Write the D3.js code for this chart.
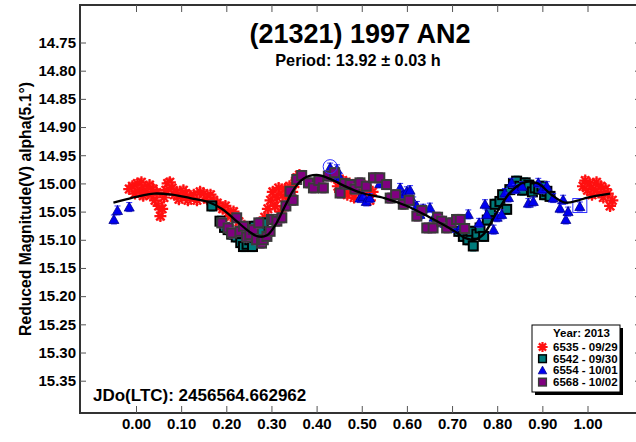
<!DOCTYPE html>
<html>
<head>
<meta charset="utf-8">
<script src="https://cdn.jsdelivr.net/npm/d3@7"></script>
<style>
    body { margin: 0; background: #fff; }
    svg { display: block; font-family: 'Liberation Sans', Arial, sans-serif; font-weight: bold; }
    .axis text { font-size: 15px; font-weight: bold; fill: #000; }
    .axis line { stroke: #555; }
</style>
</head>
<body>
<svg id="chart"></svg>
<script>
// [phase, reduced mag, error]
const night6535 = [
    [-0.015,15.010,0.007],[-0.008,15.005,0.007],[-0.002,15.018,0.007],[0.003,15.000,0.007],[0.008,15.012,0.007],
    [0.012,14.998,0.007],[0.016,15.022,0.007],[0.020,15.008,0.007],[0.025,15.015,0.007],[0.030,15.003,0.007],
    [0.034,15.020,0.007],[0.038,15.010,0.007],[0.042,15.030,0.007],[0.046,15.016,0.007],[0.050,15.040,0.007],
    [0.054,15.058,0.007],[0.058,15.045,0.007],[0.062,15.025,0.007],[0.066,15.012,0.007],[0.070,15.000,0.007],
    [0.075,14.998,0.007],[0.080,15.008,0.007],[0.085,15.020,0.007],[0.090,15.015,0.007],[0.095,15.028,0.007],
    [0.100,15.022,0.007],[0.105,15.012,0.007],[0.110,15.018,0.007],[0.115,15.030,0.007],[0.120,15.025,0.007],
    [0.128,15.020,0.007],[0.135,15.030,0.007],[0.142,15.015,0.007],[0.150,15.018,0.007],[0.158,15.028,0.007],
    [0.165,15.020,0.007],[0.172,15.030,0.007],[0.180,15.035,0.007],[0.186,15.040,0.007],[0.192,15.045,0.007],
    [0.198,15.040,0.007],[0.204,15.052,0.007],[0.210,15.058,0.007],[0.216,15.050,0.007],[0.222,15.062,0.007],
    [0.228,15.068,0.007],[0.240,15.075,0.007],[0.252,15.085,0.007],[0.262,15.080,0.007],
    [0.285,15.060,0.007],[0.292,15.045,0.007],[0.298,15.030,0.007],[0.303,15.015,0.007],[0.308,15.040,0.007],
    [0.312,15.025,0.007],[0.316,15.008,0.007],[0.320,15.050,0.007],[0.325,15.020,0.007],[0.330,15.010,0.007],
    [0.335,15.030,0.007],[0.340,15.005,0.007],[0.346,15.015,0.007],[0.352,15.000,0.007],[0.356,14.990,0.007],
    [0.362,14.985,0.007],
    [0.440,14.990,0.007],[0.447,15.005,0.007],[0.452,15.015,0.007],[0.458,14.995,0.007],[0.463,15.010,0.007],
    [0.468,15.020,0.007],[0.473,15.000,0.007],[0.478,15.012,0.007],[0.483,15.025,0.007],[0.488,15.005,0.007],
    [0.494,15.015,0.007],[0.500,15.002,0.007],[0.506,15.020,0.007],[0.512,15.010,0.007],[0.518,15.030,0.007],
    [0.524,15.015,0.007],
    [0.990,15.005,0.007],[0.995,14.995,0.007],[1.000,15.012,0.007],[1.005,15.000,0.007],[1.010,15.020,0.007],
    [1.015,15.008,0.007],[1.020,14.998,0.007],[1.025,15.015,0.007],[1.030,15.005,0.007],[1.035,15.025,0.007],
    [1.040,15.010,0.007],[1.045,15.018,0.007],[1.050,15.040,0.007],[1.055,15.030,0.007]
]

const night6542 = [
    [0.168,15.040,0.009],[0.186,15.067,0.009],[0.196,15.078,0.009],[0.204,15.082,0.009],[0.212,15.090,0.009],
    [0.222,15.095,0.009],[0.232,15.105,0.009],[0.238,15.112,0.009],[0.246,15.108,0.009],[0.252,15.100,0.009],
    [0.258,15.112,0.009],[0.262,15.076,0.009],[0.268,15.095,0.009],[0.275,15.085,0.009],[0.282,15.070,0.009],
    [0.715,15.085,0.009],[0.725,15.094,0.009],[0.735,15.100,0.009],[0.742,15.085,0.009],[0.747,15.111,0.009],
    [0.755,15.090,0.009],[0.762,15.079,0.009],[0.770,15.094,0.009],[0.778,15.065,0.009],[0.785,15.050,0.009],
    [0.795,15.037,0.009],[0.806,15.032,0.009],[0.812,15.020,0.009],[0.821,15.046,0.009],[0.828,15.011,0.009],
    [0.836,15.000,0.009],[0.843,14.996,0.009],[0.850,15.005,0.009],[0.856,15.012,0.009],[0.862,14.999,0.009],
    [0.870,15.003,0.009],[0.878,15.015,0.009],[0.884,15.008,0.009],[0.892,15.010,0.009],[0.899,15.005,0.009],
    [0.905,15.020,0.009],[0.910,15.014,0.009],[0.917,15.023,0.009]
]

const night6554 = [
    [-0.049,15.064,0.008],[-0.041,15.048,0.008],[-0.015,15.042,0.008],
    [0.430,14.972,0.008],[0.438,14.985,0.008],[0.445,14.975,0.008],[0.452,14.990,0.008],
    [0.496,15.026,0.008],[0.503,15.023,0.008],[0.510,15.032,0.008],[0.518,15.026,0.008],[0.540,15.000,0.008],
    [0.585,15.008,0.008],[0.592,15.020,0.008],[0.600,15.014,0.008],[0.607,15.012,0.008],[0.614,15.032,0.008],
    [0.622,15.040,0.008],[0.629,15.055,0.008],[0.636,15.045,0.008],[0.651,15.043,0.008],[0.660,15.060,0.008],
    [0.680,15.070,0.008],[0.703,15.079,0.008],[0.720,15.075,0.008],[0.736,15.055,0.008],[0.760,15.070,0.008],
    [0.773,15.037,0.008],[0.777,15.055,0.008],[0.792,15.082,0.008],[0.800,15.060,0.008],[0.810,15.055,0.008],
    [0.817,15.017,0.008],[0.825,15.025,0.008],[0.832,14.999,0.008],[0.840,15.010,0.008],[0.855,15.005,0.008],
    [0.869,15.035,0.008],[0.880,15.032,0.008],[0.891,14.999,0.008],[0.900,15.010,0.008],[0.910,15.005,0.008],
    [0.924,15.026,0.008],[0.939,15.044,0.008],[0.946,15.029,0.008],[0.952,15.064,0.008],[0.957,15.050,0.008],
    [0.983,15.041,0.008]
]

const night6568 = [
    [0.190,15.070,0.009],[0.204,15.079,0.009],[0.212,15.088,0.009],[0.223,15.061,0.009],[0.230,15.085,0.009],
    [0.238,15.076,0.009],[0.245,15.095,0.009],[0.252,15.091,0.009],[0.260,15.082,0.009],[0.267,15.100,0.009],
    [0.272,15.070,0.009],[0.278,15.106,0.009],[0.282,15.100,0.009],[0.290,15.094,0.009],[0.297,15.085,0.009],
    [0.300,15.064,0.009],[0.304,15.064,0.009],[0.312,15.067,0.009],[0.323,15.061,0.009],[0.332,15.040,0.009],
    [0.341,15.014,0.009],[0.348,15.030,0.009],[0.356,14.993,0.009],[0.367,14.986,0.009],[0.382,14.999,0.009],
    [0.393,15.008,0.009],[0.405,14.995,0.009],[0.415,15.008,0.009],[0.426,14.987,0.009],[0.440,14.981,0.009],
    [0.452,15.017,0.009],[0.462,15.000,0.009],[0.474,15.002,0.009],[0.485,15.010,0.009],[0.496,14.999,0.009],
    [0.510,15.005,0.009],[0.526,14.990,0.009],[0.540,14.990,0.009],[0.555,15.002,0.009],[0.563,15.026,0.009],
    [0.575,15.020,0.009],[0.592,15.037,0.009],[0.605,15.030,0.009],[0.622,15.058,0.009],[0.633,15.048,0.009],
    [0.644,15.079,0.009],[0.658,15.079,0.009],[0.668,15.060,0.009],[0.677,15.067,0.009],[0.688,15.079,0.009],
    [0.698,15.070,0.009],[0.710,15.064,0.009],[0.718,15.064,0.009],[0.728,15.080,0.009]
]

// fourier fit
const fitPhase = [-0.05,-0.02,0.00,0.04,0.08,0.12,0.16,0.19,0.22,0.25,0.27,0.29,0.31,0.33,0.35,0.37,0.40,0.43,0.46,0.50,
    0.55,0.60,0.65,0.70,0.73,0.75,0.77,0.80,0.83,0.86,0.89,0.92,0.95,0.98,1.00,1.05]
const fitMag = [15.034,15.028,15.024,15.018,15.020,15.026,15.033,15.045,15.065,15.085,15.094,15.092,15.072,15.040,15.010,14.992,14.985,14.992,15.004,15.017,
    15.026,15.040,15.060,15.082,15.097,15.100,15.090,15.050,15.015,14.998,15.000,15.020,15.034,15.030,15.025,15.018]

const xTicks = [0.0,0.1,0.2,0.3,0.4,0.5,0.6,0.7,0.8,0.9,1.0]
const yTicks = [14.75,14.80,14.85,14.90,14.95,15.00,15.05,15.10,15.15,15.20,15.25,15.30,15.35]

const legendNames = ['6535 - 09/29','6542 - 09/30','6554 - 10/01','6568 - 10/02']
const titleText = '(21321) 1997 AN2'
const periodText = 'Period: 13.92 \u00b1 0.03 h'
const jdText = 'JDo(LTC): 2456564.662962'
const yLabelText = 'Reduced Magnitude(V) alpha(5.1\u00b0)'

class LightCurve {
    constructor(_config) {
        this.config = {
            parentElement: _config.parentElement,
            containerWidth: 636,
            containerHeight: 442,
            frame: { left: 80, top: 5, right: 641, bottom: 413 }
        }
        this.series = [
            { data: night6535, shape: 'star', fill: '#ff0000', stroke: '#ff1010', bar: '#ff4040' },
            { data: night6542, shape: 'square', fill: '#007b7b', stroke: '#000', bar: '#2a9a9a' },
            { data: night6554, shape: 'triangle', fill: '#0000f0', stroke: '#00008a', bar: '#3030ff' },
            { data: night6568, shape: 'square', fill: '#800080', stroke: '#3a3a3a', bar: '#a050a0' }
        ]
        this.initVis()
    }

    initVis() {
        let vis = this
        let f = vis.config.frame

        vis.svg = d3.select(vis.config.parentElement)
            .attr('width', vis.config.containerWidth)
            .attr('height', vis.config.containerHeight)

        vis.xScale = d3.scaleLinear().domain([0, 1]).range([136, 587.5])
        vis.yScale = d3.scaleLinear().domain([14.75, 15.35]).range([42.5, 380.7])

        vis.svg.append('rect')
            .attr('x', f.left).attr('y', f.top)
            .attr('width', f.right - f.left).attr('height', f.bottom - f.top)
            .attr('fill', '#fff').attr('stroke', '#333').attr('stroke-width', 2)

        vis.xAxisG = vis.svg.append('g').attr('class', 'axis')
            .attr('transform', `translate(0,${f.bottom})`)
        vis.topAxisG = vis.svg.append('g').attr('class', 'axis')
            .attr('transform', `translate(0,${f.top})`)
        vis.yAxisG = vis.svg.append('g').attr('class', 'axis')
            .attr('transform', `translate(${f.left},0)`)
        vis.rightAxisG = vis.svg.append('g').attr('class', 'axis')
            .attr('transform', `translate(${f.right},0)`)

        vis.marks = vis.svg.append('g')

        vis.renderVis()
    }

    renderVis() {
        let vis = this

        vis.xAxisG.call(d3.axisBottom(vis.xScale).tickValues(xTicks).tickSize(-7).tickPadding(5).tickFormat(d3.format('.2f')))
        vis.topAxisG.call(d3.axisTop(vis.xScale).tickValues(xTicks).tickSize(-7).tickFormat(''))
        vis.yAxisG.call(d3.axisLeft(vis.yScale).tickValues(yTicks).tickSize(-6).tickPadding(4).tickFormat(d3.format('.2f')))
        vis.rightAxisG.call(d3.axisRight(vis.yScale).tickValues(yTicks).tickSize(-6).tickFormat(''))
        vis.svg.selectAll('.axis .domain').remove()

        vis.series.forEach((s, i) => {
            let g = vis.marks.append('g')
            let pts = g.selectAll('g.pt')
                .data(s.data)
                .join('g')
                .attr('class', 'pt')
                .attr('transform', d => `translate(${vis.xScale(d[0])},${vis.yScale(d[1])})`)

            // error bars
            pts.append('path')
                .attr('d', d => {
                    let h = vis.yScale(d[1] + d[2]) - vis.yScale(d[1])
                    return `M0,${-h}V${h}M-3,${-h}H3M-3,${h}H3`
                })
                .attr('stroke', s.bar).attr('stroke-width', 1).attr('fill', 'none')

            vis.drawMarker(pts, s)
        })

        // highlighted points
        let circ = night6554[3]
        vis.marks.append('circle')
            .attr('cx', vis.xScale(circ[0])).attr('cy', vis.yScale(circ[1]) - 1)
            .attr('r', 7).attr('fill', 'none').attr('stroke', '#3030ff').attr('stroke-width', 1)
        let box = night6554[night6554.length - 1]
        vis.marks.append('rect')
            .attr('x', vis.xScale(box[0]) - 7).attr('y', vis.yScale(box[1]) - 8)
            .attr('width', 14).attr('height', 14)
            .attr('fill', 'none').attr('stroke', '#3030ff').attr('stroke-width', 1)

        let fit = fitPhase.map((p, i) => [p, fitMag[i]])
        vis.marks.append('path')
            .datum(fit)
            .attr('d', d3.line().x(d => vis.xScale(d[0])).y(d => vis.yScale(d[1])).curve(d3.curveCatmullRom))
            .attr('fill', 'none').attr('stroke', '#000').attr('stroke-width', 2.3)

        // titles
        vis.svg.append('text').attr('x', 360).attr('y', 43)
            .attr('text-anchor', 'middle').attr('font-size', 27).text(titleText)
        vis.svg.append('text').attr('x', 358).attr('y', 66)
            .attr('text-anchor', 'middle').attr('font-size', 16.3).text(periodText)
        vis.svg.append('text')
            .attr('transform', 'translate(31,209) rotate(-90)')
            .attr('text-anchor', 'middle').attr('font-size', 15.7).text(yLabelText)
        vis.svg.append('text').attr('x', 93).attr('y', 401)
            .attr('font-size', 17).text(jdText)

        // legend
        let lg = vis.svg.append('g').attr('transform', 'translate(532,325)')
        lg.append('rect').attr('x', 3).attr('y', 3).attr('width', 88).attr('height', 67).attr('fill', '#000')
        lg.append('rect').attr('width', 88).attr('height', 67).attr('fill', '#fff').attr('stroke', '#000').attr('stroke-width', 1)
        lg.append('text').attr('x', 21).attr('y', 12).attr('font-size', 11.5).text('Year: 2013')
        vis.series.forEach((s, i) => {
            let row = lg.append('g').attr('transform', `translate(0,${26 + i * 11.7})`)
            let m = row.append('g').attr('transform', 'translate(10.5,-4)')
            vis.drawMarker(m, s, true)
            row.append('text').attr('x', 21).attr('y', 0).attr('font-size', 11.5).text(legendNames[i])
        })
    }

    drawMarker(sel, s, small) {
        let k = small ? 0.85 : 1
        if (s.shape === 'star') {
            let r = 6 * k
            let d = ''
            for (let a = 0; a < 4; a++) {
                let t = a * Math.PI / 4
                d += `M${-r * Math.cos(t)},${-r * Math.sin(t)}L${r * Math.cos(t)},${r * Math.sin(t)}`
            }
            sel.append('path').attr('d', d).attr('stroke', s.stroke).attr('stroke-width', 2.2).attr('fill', 'none')
        } else if (s.shape === 'square') {
            let w = 9 * k
            sel.append('rect').attr('x', -w / 2).attr('y', -w / 2).attr('width', w).attr('height', w)
                .attr('fill', s.fill).attr('stroke', s.stroke).attr('stroke-width', small ? 1.5 : 2)
        } else {
            let r = 5 * k
            sel.append('path').attr('d', `M0,${-r}L${r},${r * 0.8}L${-r},${r * 0.8}Z`)
                .attr('fill', s.fill).attr('stroke', s.stroke).attr('stroke-width', 0.8)
        }
    }
}

let chart = new LightCurve({ parentElement: '#chart' })
</script>
</body>
</html>
